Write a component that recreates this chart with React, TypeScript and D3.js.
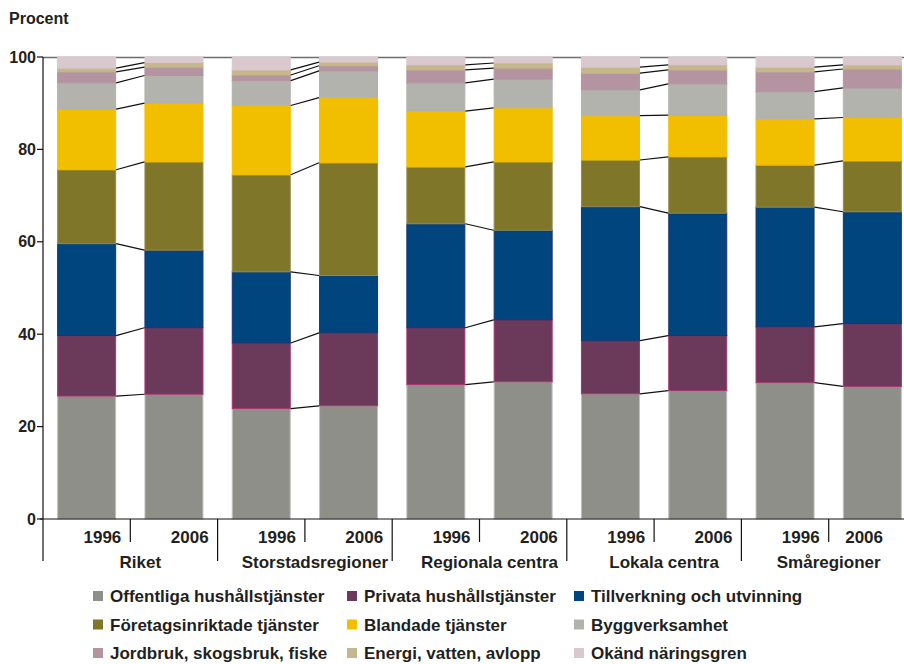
import React from 'react';
import * as d3 from 'd3';

// Data
const regions = ['Riket', 'Storstadsregioner', 'Regionala centra', 'Lokala centra', 'Småregioner'];
const years = ['1996', '2006'];
const sectors = [
  'Offentliga hushållstjänster',
  'Privata hushållstjänster',
  'Tillverkning och utvinning',
  'Företagsinriktade tjänster',
  'Blandade tjänster',
  'Byggverksamhet',
  'Jordbruk, skogsbruk, fiske',
  'Energi, vatten, avlopp',
  'Okänd näringsgren',
];
// share (%) per sector, one row per bar (region x year)
const riket1996 = [26.6, 13.1, 19.9, 16.0, 13.1, 5.7, 2.4, 0.8, 2.4];
const riket2006 = [27.0, 14.4, 16.8, 19.1, 12.7, 6.0, 1.8, 1.0, 1.2];
const storstad1996 = [23.9, 14.2, 15.4, 21.0, 15.0, 5.4, 1.2, 1.1, 2.8];
const storstad2006 = [24.5, 15.8, 12.4, 24.4, 14.1, 5.8, 1.1, 0.8, 1.1];
const regionala1996 = [29.1, 12.3, 22.5, 12.3, 12.1, 6.1, 2.8, 1.1, 1.7];
const regionala2006 = [29.7, 13.4, 19.4, 14.8, 11.7, 6.2, 2.4, 1.1, 1.3];
const lokala1996 = [27.1, 11.5, 29.0, 10.1, 9.6, 5.6, 3.6, 1.3, 2.2];
const lokala2006 = [27.8, 11.9, 26.5, 12.2, 9.0, 6.8, 3.0, 1.1, 1.7];
const sma1996 = [29.5, 12.1, 25.9, 9.1, 10.0, 5.9, 4.3, 1.0, 2.2];
const sma2006 = [28.7, 13.6, 24.2, 11.0, 9.4, 6.4, 4.1, 0.9, 1.7];
const yTicks = [0, 20, 40, 60, 80, 100];

const barValues = [
  riket1996, riket2006,
  storstad1996, storstad2006,
  regionala1996, regionala2006,
  lokala1996, lokala2006,
  sma1996, sma2006,
];

const fills = ['#8f8f89', '#6b3a5b', '#00457e', '#7f7629', '#f2be00', '#b3b3ad', '#b494a1', '#c3b78b', '#d9c8ce'];
const strokes = ['#c2c2bd', '#a8336d', '#1d3370', '#958b4f', '#f2be00', '#b3b3ad', '#b494a1', '#c3b78b', '#d9c8ce'];

const W = 904;
const H = 664;
const FONT = '"Liberation Sans", Arial, sans-serif';
const TEXT = '#231f20';

export default function App() {
  const left = 43;
  const bottom = 519;
  const top = 57;

  const keys = barValues.map((_, i) => String(i));
  const x = d3.scaleBand().domain(keys).range([left, left + 873]).paddingInner(0.324).paddingOuter(0.162);
  const y = d3.scaleLinear().domain([0, 100]).range([bottom, top]);
  const step = x.step();
  const bw = x.bandwidth();

  // stacked table
  const table = barValues.map((vals) => {
    const row: any = {};
    sectors.forEach((s, j) => (row[s] = vals[j]));
    return row;
  });
  const stacked = d3.stack().keys(sectors)(table);

  const bars: React.ReactNode[] = [];
  stacked.forEach((layer, j) => {
    layer.forEach((d, i) => {
      bars.push(
        <rect
          key={`b-${j}-${i}`}
          x={(x(String(i)) as number) + 0.5}
          y={y(d[1])}
          width={bw - 1}
          height={Math.max(0, y(d[0]) - y(d[1]))}
          fill={fills[j]}
          stroke={strokes[j]}
          strokeWidth={1}
        />
      );
    });
  });

  // connector lines between the two years of each region
  const links: React.ReactNode[] = [];
  regions.forEach((_, r) => {
    const a = r * 2;
    const b = r * 2 + 1;
    for (let j = 0; j < sectors.length - 1; j++) {
      links.push(
        <line
          key={`l-${r}-${j}`}
          x1={(x(String(a)) as number) + bw}
          y1={y(stacked[j][a][1])}
          x2={x(String(b)) as number}
          y2={y(stacked[j][b][1])}
          stroke="#111"
          strokeWidth={1.2}
        />
      );
    }
  });

  const legendCols = [93, 347, 574];
  const legendRows = [591, 619.5, 648];

  return (
    <svg width={W} height={H} style={{ position: 'absolute', left: 0, top: 0, background: '#fff' }} fontFamily={FONT}>
      <text x={9} y={24} fontSize={16} fontWeight="bold" fill={TEXT}>Procent</text>

      {/* top frame line */}
      <line x1={left} x2={W} y1={top + 0.5} y2={top + 0.5} stroke="#6d6d6d" strokeWidth={1.5} />

      {bars}
      {links}

      {/* y axis */}
      <line x1={left} x2={left} y1={top} y2={bottom} stroke="#111" strokeWidth={1.2} />
      {yTicks.map((t) => (
        <g key={`yt-${t}`}>
          <line x1={left - 6} x2={left} y1={y(t)} y2={y(t)} stroke="#111" strokeWidth={1.2} />
          <text x={36} y={y(t)} dy="0.35em" textAnchor="end" fontSize={16} fontWeight="bold" fill={TEXT}>{t}</text>
        </g>
      ))}

      {/* x axis */}
      <line x1={left - 3} x2={W} y1={bottom} y2={bottom} stroke="#111" strokeWidth={1.2} />
      {regions.map((reg, r) => {
        const x0 = left + r * 2 * step;
        const mid = x0 + step;
        const x1 = x0 + 2 * step;
        const last = r === regions.length - 1;
        return (
          <g key={`reg-${r}`}>
            <line x1={x0} x2={x0} y1={bottom} y2={561} stroke="#111" strokeWidth={1.2} />
            <line x1={mid} x2={mid} y1={bottom} y2={542} stroke="#111" strokeWidth={1.2} />
            <text x={mid - 9} y={543} textAnchor="end" fontSize={17} fontWeight="bold" fill={TEXT}>{years[0]}</text>
            <text x={Math.min(x1 - 9, W - 21)} y={543} textAnchor="end" fontSize={17} fontWeight="bold" fill={TEXT}>{years[1]}</text>
            <text x={last ? mid : mid + 10} y={568} textAnchor="middle" fontSize={17} fontWeight="bold" fill={TEXT}>{reg}</text>
          </g>
        );
      })}

      {/* legend */}
      {sectors.map((s, j) => {
        const cx = legendCols[j % 3];
        const cy = legendRows[Math.floor(j / 3)];
        return (
          <g key={`lg-${j}`}>
            <rect x={cx} y={cy} width={10} height={10} fill={fills[j]} />
            <text x={cx + 17} y={cy + 11} fontSize={17} fontWeight="bold" fill={TEXT}>{s}</text>
          </g>
        );
      })}
    </svg>
  );
}
